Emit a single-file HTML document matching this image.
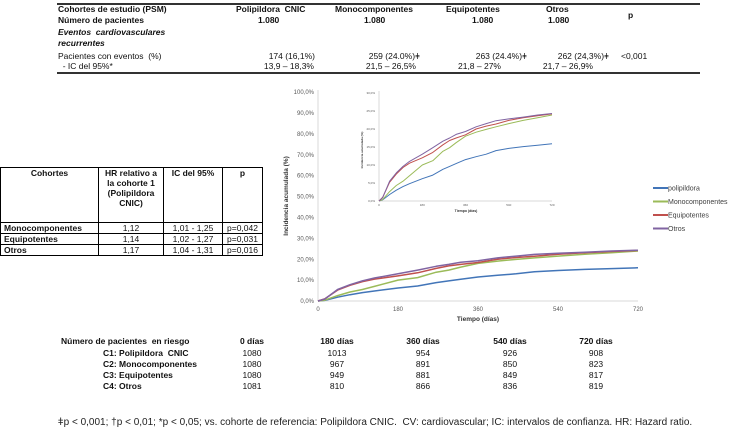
<!DOCTYPE html>
<html><head><meta charset="utf-8">
<style>
body{margin:0;width:750px;height:437px;background:#fff;position:relative;overflow:hidden;font-family:"Liberation Sans",Arial,sans-serif;color:#111}
.a{position:absolute;white-space:nowrap}
.t1{font-size:8.5px}
.b{font-weight:bold}
table.hr{position:absolute;left:0;top:167px;border-collapse:collapse;font-size:8.5px;font-family:"Liberation Sans",Arial,sans-serif}
table.hr td{border:1px solid #000;padding:0 3px;height:9px;line-height:10px}
table.hr td.c{text-align:center;font-weight:normal}
</style></head><body>
<div>
<div class="a" style="left:57px;top:3px;width:643px;height:2px;background:#333"></div>
<div class="a t1 b" style="left:58px;top:4px">Cohortes de estudio (PSM)</div>
<div class="a t1 b" style="left:58px;top:15px">Número de pacientes</div>
<div class="a t1 b" style="left:236px;top:4px">Polipildora&nbsp; CNIC</div>
<div class="a t1 b" style="left:335px;top:4px">Monocomponentes</div>
<div class="a t1 b" style="left:446px;top:4px">Equipotentes</div>
<div class="a t1 b" style="left:546px;top:4px">Otros</div>
<div class="a t1 b" style="left:258px;top:15px">1.080</div>
<div class="a t1 b" style="left:364px;top:15px">1.080</div>
<div class="a t1 b" style="left:472px;top:15px">1.080</div>
<div class="a t1 b" style="left:548px;top:15px">1.080</div>
<div class="a t1 b" style="left:628px;top:10px">p</div>
<div class="a t1 b" style="left:58px;top:27px;font-style:italic">Eventos&nbsp; cardiovasculares</div>
<div class="a t1 b" style="left:58px;top:38px;font-style:italic">recurrentes</div>
<div class="a t1" style="left:58px;top:51px">Pacientes con eventos&nbsp; (%)</div>
<div class="a t1" style="left:58px;top:61px">&nbsp; - IC del 95%*</div>
<div class="a t1" style="right:435px;top:51px">174 (16,1%)</div>
<div class="a t1" style="right:330px;top:51px">259 (24.0%)ǂ</div>
<div class="a t1" style="right:223px;top:51px">263 (24.4%)ǂ</div>
<div class="a t1" style="right:141px;top:51px">262 (24,3%)ǂ</div>
<div class="a t1" style="left:621px;top:51px">&lt;0,001</div>
<div class="a t1" style="right:436px;top:61px">13,9 – 18,3%</div>
<div class="a t1" style="right:334px;top:61px">21,5 – 26,5%</div>
<div class="a t1" style="right:249px;top:61px">21,8 – 27%</div>
<div class="a t1" style="right:157px;top:61px">21,7 – 26,9%</div>
<div class="a" style="left:57px;top:72px;width:643px;height:2px;background:#333"></div>
</div>

<table class="hr">
<tr style="height:55px"><td class="b" style="width:91px;text-align:center;vertical-align:top">Cohortes</td><td class="b" style="width:58px;text-align:center;vertical-align:top">HR relativo a la cohorte 1 (Polipildora CNIC)</td><td class="b" style="width:52px;text-align:center;vertical-align:top">IC del 95%</td><td class="b" style="width:33px;text-align:center;vertical-align:top">p</td></tr>
<tr><td class="b">Monocomponentes</td><td class="c">1,12</td><td class="c">1,01 - 1,25</td><td class="c">p=0,042</td></tr>
<tr><td class="b">Equipotentes</td><td class="c">1,14</td><td class="c">1,02 - 1,27</td><td class="c">p=0,031</td></tr>
<tr><td class="b">Otros</td><td class="c">1,17</td><td class="c">1,04 - 1,31</td><td class="c">p=0,016</td></tr>
</table>

<svg id="chart" class="a" style="left:0;top:0" width="750" height="437" font-family="Liberation Sans, Arial, sans-serif"></svg>

<div>
<div class="a t1 b" style="left:61px;top:336px">Número de pacientes&nbsp; en riesgo</div>
<div class="a t1 b" style="left:103px;top:348px">C1: Polipildora&nbsp; CNIC</div>
<div class="a t1 b" style="left:103px;top:359px">C2: Monocomponentes</div>
<div class="a t1 b" style="left:103px;top:370px">C3: Equipotentes</div>
<div class="a t1 b" style="left:103px;top:381px">C4: Otros</div>
<div id="riskcols"></div>
</div>
<div class="a" style="left:0;width:750px;text-align:center;top:417px;font-size:10px;color:#222">ǂp &lt; 0,001; †p &lt; 0,01; *p &lt; 0,05; vs. cohorte de referencia: Polipildora CNIC.&nbsp; CV: cardiovascular; IC: intervalos de confianza. HR: Hazard ratio.</div>

<script>
const days=[0,15,44,72,100,127,180,224,266,294,321,360,404,446,487,540,600,660,720];
const poli=[0,0.3,1.8,3.0,4.0,4.8,6.2,7.2,8.8,9.6,10.4,11.5,12.3,13.0,14.0,14.6,15.1,15.5,15.9];
const mono=[0,0.4,2.6,4.3,5.5,7.0,10.0,11.2,13.8,14.8,16.2,18.0,19.1,19.9,20.6,21.5,22.4,23.1,23.9];
const equi=[0,1.0,5.2,7.5,9.3,10.5,12.0,13.5,15.6,16.8,17.5,18.4,20.0,20.8,21.4,22.4,23.1,23.7,24.2];
const otros=[0,0.9,5.5,7.8,9.6,11.0,13.0,14.8,16.6,17.5,18.5,19.3,20.6,21.5,22.3,22.8,23.3,23.9,24.3];
const seriesNames=["polipildora","Monocomponentes","Equipotentes","Otros"];
const xTicks=[0,180,360,540,720];
const yTicksMain=[0,10,20,30,40,50,60,70,80,90,100];
const yTicksInset=[0,5,10,15,20,25,30];
const riskHeaders=["0 días","180 días","360 días","540 días","720 días"];
const riskC1=[1080,1013,954,926,908];
const riskC2=[1080,967,891,850,823];
const riskC3=[1080,949,881,849,817];
const riskC4=[1081,810,866,836,819];

const colors=["#4275b8","#9bbb59","#c0504d","#8064a2"];
const all=[poli,mono,equi,otros];
const NS="http://www.w3.org/2000/svg";
const svg=document.getElementById('chart');
function el(t,a,p){const e=document.createElementNS(NS,t);for(const k in a)e.setAttribute(k,a[k]);(p||svg).appendChild(e);return e;}

function drawPanel(x0,x1,y0,y1,ymax,yt,fs,sw,name){
  const g=el('g',{});
  
  
  const X=d=>x0+(d/720)*(x1-x0);
  const Y=v=>y0-(v/ymax)*(y0-y1);
  el('line',{x1:x0,y1:y1-2,x2:x0,y2:y0,stroke:'#d9d9d9','stroke-width':1},g);
  el('line',{x1:x0,y1:y0,x2:x1,y2:y0,stroke:'#d9d9d9','stroke-width':1},g);
  yt.forEach(v=>{const t=el('text',{x:x0-4,y:Y(v)+fs*0.35,'font-size':fs,'text-anchor':'end',fill:'#595959'},g);t.textContent=v.toFixed(1).replace('.',',')+'%';});
  xTicks.forEach(d=>{const t=el('text',{x:X(d),y:y0+fs*1.7,'font-size':fs,'text-anchor':'middle',fill:'#595959'},g);t.textContent=d;});
  all.forEach((s,i)=>{
    const pts=days.map((d,j)=>X(d).toFixed(1)+','+Y(s[j]).toFixed(1)).join(' ');
    const p=el('polyline',{points:pts,fill:'none',stroke:colors[i],'stroke-width':sw,'stroke-linejoin':'round'},g);
    
    
  });
  return {X,Y};
}
drawPanel(318,638,301,92,100,yTicksMain,6,1.5,'main-plot');
let t=el('text',{x:478,y:321,'font-size':6.5,'font-weight':'bold','text-anchor':'middle',fill:'#333'});t.textContent='Tiempo (días)';

t=el('text',{x:0,y:0,'font-size':6.5,'font-weight':'bold','text-anchor':'middle',fill:'#333',transform:'translate(288,196) rotate(-90)'});t.textContent='Incidencia acumulada (%)';


drawPanel(379,552,201,93,30,yTicksInset,3,1,'inset-plot');
t=el('text',{x:466,y:212,'font-size':3.5,'font-weight':'bold','text-anchor':'middle',fill:'#333'});t.textContent='Tiempo (días)';

t=el('text',{x:0,y:0,'font-size':3,'font-weight':'bold','text-anchor':'middle',fill:'#333',transform:'translate(363,150) rotate(-90)'});t.textContent='Incidencia acumulada (%)';


seriesNames.forEach((n,i)=>{
  const y=188+i*13.5;
  const g=el('g',{});
  
  
  el('line',{x1:653,y1:y,x2:668,y2:y,stroke:colors[i],'stroke-width':2},g);
  const tt=el('text',{x:668,y:y+2.5,'font-size':7,fill:'#404040'},g);tt.textContent=n;
});

const cx=[252,337,423,510,596];
const rc=document.getElementById('riskcols');
function cell(txt,x,y,bold){const d=document.createElement('div');d.className='a t1'+(bold?' b':'');d.style.left=(x-30)+'px';d.style.width='60px';d.style.textAlign='center';d.style.top=y+'px';d.textContent=txt;


rc.appendChild(d);}
riskHeaders.forEach((h,i)=>cell(h,cx[i],336,true));
[riskC1,riskC2,riskC3,riskC4].forEach((r,j)=>r.forEach((v,i)=>cell(String(v),cx[i],348+j*11,false)));
</script>
</body></html>
